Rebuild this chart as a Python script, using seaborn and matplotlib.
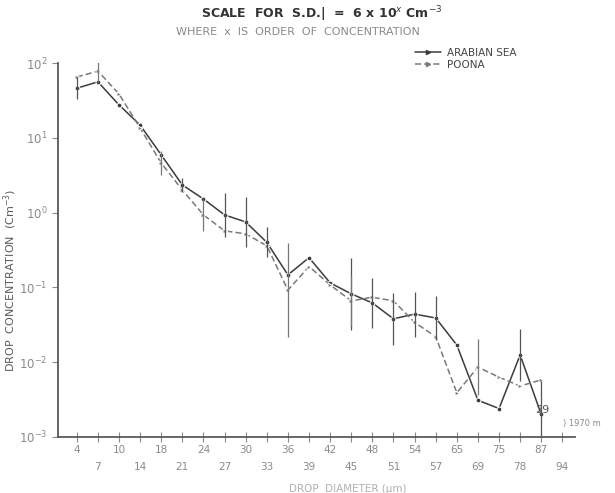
import matplotlib
matplotlib.use("Agg")
import matplotlib.pyplot as plt
import numpy as np
import pandas as pd
import seaborn as sns
from matplotlib.lines import Line2D

# drop diameter bins (um) as labelled on the axis
diameters = ["4", "7", "10", "14", "18", "21", "24", "27", "30", "33", "36", "39",
             "42", "45", "48", "51", "54", "57", "65", "69", "75", "78", "87", "94"]

# drop concentration (cm^-3)
arabian_sea = [46, 56, 27.5, 14.8, 5.9, 2.34, 1.52, 0.93, 0.75, 0.40, 0.147, 0.25,
               0.115, 0.082, 0.062, 0.038, 0.044, 0.039, 0.017, 0.0031, 0.0024,
               0.0125, 0.002]
poona = [65, 78, 38.5, 13.5, 4.6, 2.0, 0.93, 0.57, 0.52, 0.36, 0.092, 0.19,
         0.108, 0.066, 0.074, 0.066, 0.034, 0.022, 0.0039, 0.0086, 0.0063,
         0.0048, 0.0058]

# standard deviation half-widths in decades (0 = no bar drawn)
arabian_sd = [0.15, 0, 0, 0, 0, 0.1, 0, 0.3, 0.33, 0.2, 0, 0,
              0, 0.48, 0.33, 0.35, 0.3, 0.3, 0, 0, 0, 0.35, 0.45]
poona_sd = [0, 0.15, 0, 0, 0.16, 0, 0.22, 0, 0, 0, 0.63, 0,
            0, 0.33, 0, 0, 0, 0, 0, 0.37, 0, 0, 0]

ink = "#5a5a5a"
faint = "#8a8a8a"

sns.set_style("ticks")
plt.rcParams["font.family"] = ["DejaVu Sans"]

df = pd.concat([
    pd.DataFrame({"idx": range(len(arabian_sea)), "conc": arabian_sea, "site": "ARABIAN SEA"}),
    pd.DataFrame({"idx": range(len(poona)), "conc": poona, "site": "POONA"}),
])

fig = plt.figure(figsize=(6.15, 4.93), dpi=100)
ax = fig.add_axes([0.094, 0.1136, 0.841, 0.7586])

sns.lineplot(data=df, x="idx", y="conc", hue="site", style="site",
             palette={"ARABIAN SEA": "#3c3c3c", "POONA": "#7a7a7a"},
             dashes={"ARABIAN SEA": "", "POONA": (4, 2)},
             markers={"ARABIAN SEA": "o", "POONA": ">"},
             markersize=3.5, linewidth=1.1, ax=ax, legend=False)

for vals, sd, col in [(arabian_sea, arabian_sd, "#555555"), (poona, poona_sd, "#777777")]:
    v = np.array(vals)
    s = np.array(sd)
    m = s > 0
    x = np.arange(len(v))[m]
    lo = v[m] - v[m] / 10 ** s[m]
    hi = v[m] * 10 ** s[m] - v[m]
    ax.errorbar(x, v[m], yerr=[lo, hi], fmt="none", ecolor=col, elinewidth=0.9, capsize=0)

ax.set_yscale("log")
ax.set_ylim(1e-3, 1e2)
ax.set_xlim(-0.9, 23.6)

ax.set_xticks(range(len(diameters)))
ax.set_xticklabels([d if i % 2 == 0 else "\n" + d for i, d in enumerate(diameters)],
                   fontsize=7.5, color=faint, linespacing=1.9)
ax.tick_params(axis="x", direction="inout", length=7, color=faint, pad=2)
ax.tick_params(axis="y", which="major", direction="out", length=4, color=faint,
               labelsize=8.5, labelcolor=faint)
ax.tick_params(axis="y", which="minor", length=0)

for side in ["top", "right"]:
    ax.spines[side].set_visible(False)
for side in ["left", "bottom"]:
    ax.spines[side].set_color(ink)
    ax.spines[side].set_linewidth(1.3)

ax.set_xlabel("DROP  DIAMETER (\u03bcm)", fontsize=7.5, color="#b0b0b0")
ax.xaxis.set_label_coords(0.56, -0.125)
ax.set_ylabel("DROP  CONCENTRATION  (Cm$^{-3}$)", fontsize=8, color=ink)
ax.yaxis.set_label_coords(-0.075, 0.42)

fig.text(0.523, 0.963, "SCALE  FOR  S.D.|  =  6 x 10$^{x}$ Cm$^{-3}$", ha="center",
         fontsize=9, color="#333333", weight="bold")
fig.text(0.485, 0.93, "WHERE  x  IS  ORDER  OF  CONCENTRATION", ha="center",
         fontsize=8, color=faint)

# legend drawn as two short key lines
handles = [Line2D([], [], color="#3c3c3c", lw=1.1, marker=">", markevery=[1], markersize=3),
           Line2D([], [], color="#7a7a7a", lw=1.1, ls=(0, (4, 2)), marker=">", markevery=[1], markersize=3)]
fig.legend(handles, ["ARABIAN SEA", "POONA"], loc="upper left", bbox_to_anchor=(0.66, 0.922),
           frameon=False, fontsize=7.5, labelcolor="#444444", handlelength=2.5,
           handletextpad=0.5, labelspacing=0.2)

fig.text(0.87, 0.162, "29", fontsize=8, color="#555555")
fig.text(0.915, 0.135, ") 1970 m", fontsize=6, color=faint)

fig.savefig("out.png", dpi=100)
